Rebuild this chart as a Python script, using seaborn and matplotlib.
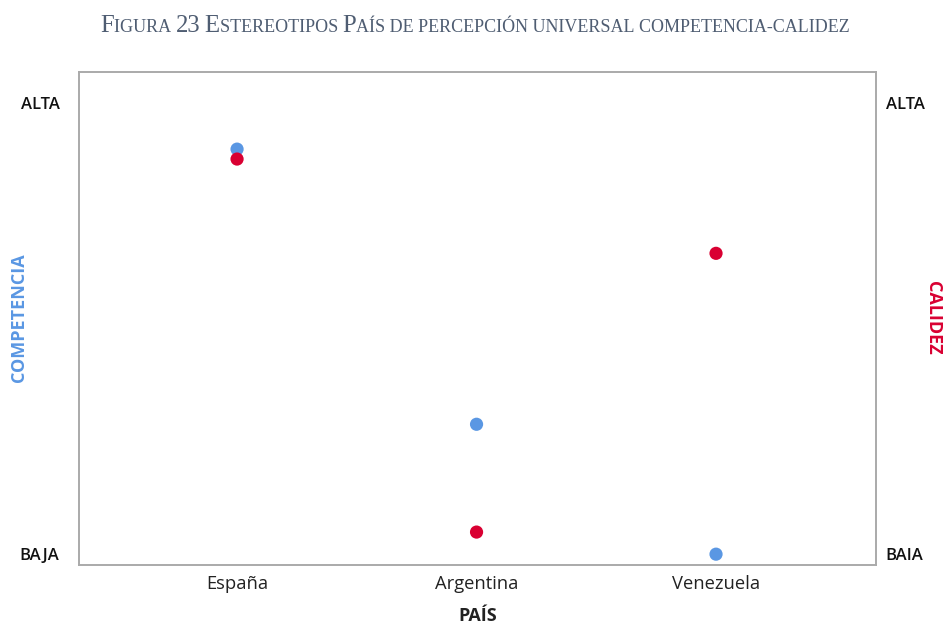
import matplotlib
matplotlib.use("Agg")
import matplotlib.pyplot as plt
import seaborn as sns
import pandas as pd

paises = ["España", "Argentina", "Venezuela"]
competencia = [0.898, 0.288, 0.0]
calidez = [0.876, 0.049, 0.667]
ytick_vals = [0.0, 1.0]
left_labels = ["BAJA", "ALTA"]
right_labels = ["BAIA", "ALTA"]

sns.set_theme(style="white")
plt.rcParams['font.family'] = ['Open Sans', 'DejaVu Sans']

df = pd.DataFrame({
    "pais": paises * 2,
    "dim": ["Competencia"] * 3 + ["Calidez"] * 3,
    "valor": competencia + calidez,
})

fig = plt.figure(figsize=(9.44, 6.26), dpi=100)
ax = fig.add_axes([79/944, 1-565/626, 797/944, 493/626])

blue = "#5a97e3"
red = "#d90032"
sns.stripplot(data=df, x="pais", y="valor", hue="dim", order=paises,
              hue_order=["Competencia", "Calidez"], palette=[blue, red],
              jitter=False, dodge=False, size=9.5, linewidth=0, ax=ax, legend=False,
              zorder=3)

ax.set_xlim(-0.66, 2.668)
ax.set_ylim(-0.024, 1.069)
ax.set_yticks(ytick_vals)
ax.set_yticklabels(left_labels, fontsize=12, fontweight="semibold", color="#111111")
ax.tick_params(axis="y", length=0, pad=14)
ax.tick_params(axis="x", length=0, pad=7, labelsize=13.2, labelcolor="#222222")
ax.set_xlabel("PAÍS", fontsize=13, fontweight="bold", color="#222222", labelpad=10)
ax.set_ylabel("")
for s in ax.spines.values():
    s.set_color("#aaaaaa")
    s.set_linewidth(1.4)

ax2 = ax.twinx()
ax2.set_ylim(ax.get_ylim())
ax2.set_yticks(ytick_vals)
ax2.set_yticklabels(right_labels, fontsize=12, fontweight="semibold", color="#111111")
ax2.tick_params(axis="y", length=0, pad=7)
for s in ax2.spines.values():
    s.set_visible(False)

fig.text(19/944, 1-318/626, "COMPETENCIA", rotation=90, ha="center", va="center",
         fontsize=13, fontweight="bold", color=blue)
fig.text(933/944, 1-318/626, "CALIDEZ", rotation=270, ha="center", va="center",
         fontsize=13, fontweight="bold", color=red)

# Small-caps title
title = "Figura 23 Estereotipos País de percepción universal competencia-calidez"
tcolor = "#4f5d72"
big, small = 17.8, 13.0
runs = []
for ch in title:
    if ch.isupper() or ch.isdigit():
        runs.append((ch, big))
    else:
        runs.append((ch.upper(), small))
merged = []
for ch, sz in runs:
    if merged and merged[-1][1] == sz:
        merged[-1] = (merged[-1][0] + ch, sz)
    else:
        merged.append((ch, sz))

fig.canvas.draw()
renderer = fig.canvas.get_renderer()
widths = []
for txt, sz in merged:
    t = fig.text(0, 0, txt.replace(" ", "\u00a0"), fontsize=sz, family="Liberation Serif")
    widths.append(t.get_window_extent(renderer).width)
    t.remove()

total = sum(widths)
x = (475 - total / 2)
ybase = 1 - 32/626
for (txt, sz), w in zip(merged, widths):
    fig.text(x/944, ybase, txt.replace(" ", "\u00a0"), fontsize=sz, family="Liberation Serif",
             color=tcolor, va="baseline", ha="left")
    x += w

fig.savefig("out.png", dpi=100)
